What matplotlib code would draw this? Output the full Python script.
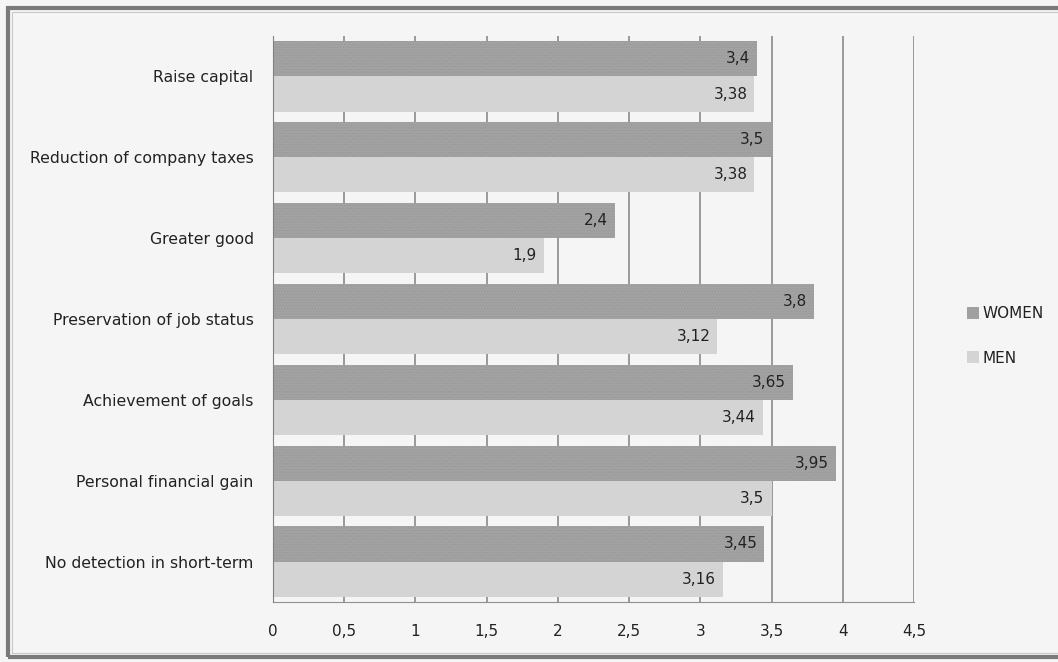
import matplotlib.pyplot as plt
import matplotlib.patches as mpatches
import numpy as np

# Data (top to bottom)
categories = ['Raise capital', 'Reduction of company taxes', 'Greater good',
              'Preservation of job status', 'Achievement of goals',
              'Personal financial gain', 'No detection in short-term']
women = [3.4, 3.5, 2.4, 3.8, 3.65, 3.95, 3.45]
men = [3.38, 3.38, 1.9, 3.12, 3.44, 3.5, 3.16]
xticks = [0, 0.5, 1, 1.5, 2, 2.5, 3, 3.5, 4, 4.5]

plt.rcParams['font.family'] = ['DejaVu Sans']
plt.rcParams['hatch.linewidth'] = 0.4

fig = plt.figure(figsize=(10.58, 6.62), dpi=100, facecolor='#f5f5f5')
ax = fig.add_axes([273 / 1058, 1 - 602 / 662, (914 - 273) / 1058, (602 - 36) / 662])
ax.set_facecolor('#f5f5f5')

y = np.arange(len(categories))
h = 0.435
bw = ax.barh(y - h / 2, women, height=h, color='#a2a2a2', hatch='......',
             edgecolor='#959595', linewidth=0, zorder=3, label='WOMEN')
bm = ax.barh(y + h / 2, men, height=h, color='#d4d4d4', linewidth=0,
             zorder=3, label='MEN')

def fmt(v):
    return ('%g' % v).replace('.', ',')

for bars, vals in ((bw, women), (bm, men)):
    for b, v in zip(bars, vals):
        ax.text(v - 0.05, b.get_y() + b.get_height() / 2, fmt(v),
                ha='right', va='center', fontsize=11, color='#222222', zorder=4)

ax.set_ylim(len(categories) - 0.5, -0.5)
ax.set_xlim(0, 4.5)
ax.set_xticks(xticks)
ax.set_xticklabels([fmt(t) for t in xticks], fontsize=11, color='#222222')
ax.set_yticks(y)
ax.set_yticklabels(categories, fontsize=11.3, color='#222222')
ax.tick_params(axis='both', length=0)
ax.tick_params(axis='y', pad=14)
ax.tick_params(axis='x', pad=16)

ax.grid(axis='x', color='#808080', linewidth=1.1, zorder=0)
ax.set_axisbelow(True)
for s in ['top', 'right']:
    ax.spines[s].set_visible(False)
ax.spines['left'].set_color('#808080')
ax.spines['bottom'].set_color('#909090')
ax.spines['left'].set_zorder(5)

fig.legend(handles=[bw, bm], labels=['WOMEN', 'MEN'], loc='center left',
           bbox_to_anchor=(953 / 1058, 1 - 336 / 662), frameon=False,
           handlelength=0.8, handleheight=0.8, handletextpad=0.2,
           labelspacing=1.9, fontsize=11, labelcolor='#222222')

# outer frame
fig.patches.append(mpatches.Rectangle((8 / 1058, 5 / 662), 1.2, 1 - 13 / 662,
                                      transform=fig.transFigure, fill=False,
                                      edgecolor='#7a7a7a', linewidth=3))
fig.patches.append(mpatches.Rectangle((12 / 1058, 9 / 662), 1.2, 1 - 21 / 662,
                                      transform=fig.transFigure, fill=False,
                                      edgecolor='#c8c8c8', linewidth=0.8))

fig.savefig('out.png', dpi=100, facecolor=fig.get_facecolor())
